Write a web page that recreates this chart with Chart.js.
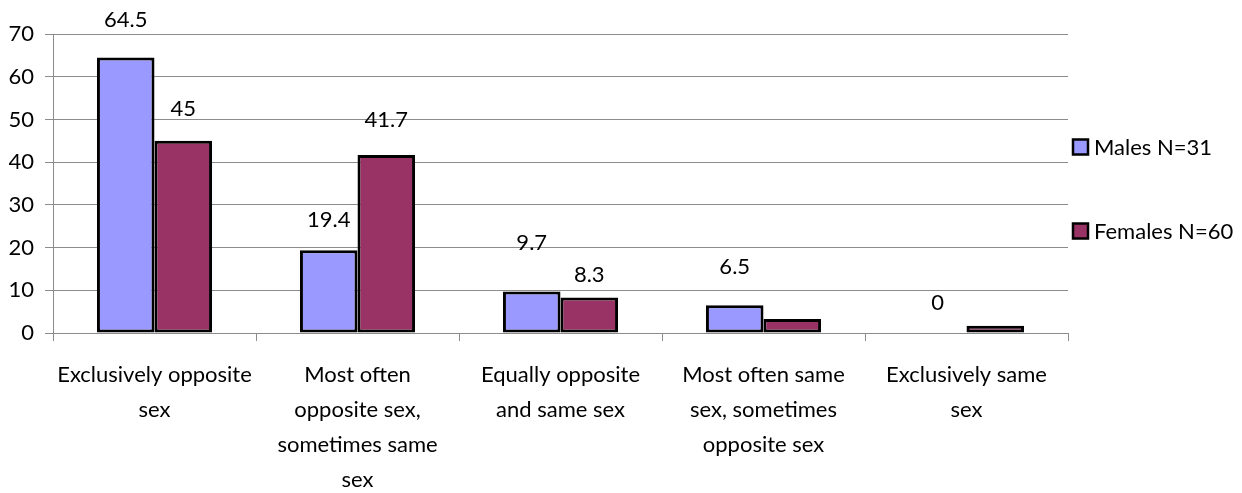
<!DOCTYPE html>
<html>
<head>
<meta charset="utf-8">
<script src="https://cdn.jsdelivr.net/npm/chart.js@4.4.0/dist/chart.umd.min.js"></script>
<style>
  html, body { margin: 0; padding: 0; background: #fff; }
  #wrap { width: 1242px; height: 493px; position: relative; }
</style>
</head>
<body>
<div id="wrap"><canvas id="chart"></canvas></div>
<script>
const categories = [
  ["Exclusively opposite", "sex"],
  ["Most often", "opposite sex,", "sometimes same", "sex"],
  ["Equally opposite", "and same sex"],
  ["Most often same", "sex, sometimes", "opposite sex"],
  ["Exclusively same", "sex"],
];
const males = [64.5, 19.4, 9.7, 6.5, 0];
const females = [45, 41.7, 8.3, 3.3, 1.7];
const maleLabels = ["64.5", "19.4", "9.7", "6.5", "0"];
const femaleLabels = ["45", "41.7", "8.3", null, null];

const FONT = "Lato, 'Open Sans', sans-serif";
const FONT_SIZE = 22;

// value labels above bars (gap above the bar top, per label, as in the original)
const valueLabels = {
  id: "valueLabels",
  afterDatasetsDraw(chart, args, opts) {
    const ctx = chart.ctx;
    const sets = [maleLabels, femaleLabels];
    ctx.save();
    ctx.font = FONT_SIZE + "px " + FONT;
    ctx.fillStyle = "#000";
    ctx.textAlign = "center";
    ctx.textBaseline = "middle";
    sets.forEach((labels, i) => {
      chart.getDatasetMeta(i).data.forEach((bar, j) => {
        if (labels[j] == null) return;
        ctx.fillText(labels[j], bar.x, bar.y - opts.gaps[i][j]);
      });
    });
    ctx.restore();
  },
};

// legend to the right of the plot
const sideLegend = {
  id: "sideLegend",
  afterDraw(chart, args, opts) {
    const ctx = chart.ctx;
    const area = chart.chartArea;
    const x = area.right + 5;
    const mid = (area.top + area.bottom) / 2 + 5;
    ctx.save();
    ctx.font = FONT_SIZE + "px " + FONT;
    ctx.textBaseline = "middle";
    chart.data.datasets.forEach((ds, i) => {
      const y = mid + (i - 0.5) * opts.spacing;
      ctx.fillStyle = ds.backgroundColor;
      ctx.fillRect(x, y - 7, 15, 15);
      ctx.lineWidth = 2.5;
      ctx.strokeStyle = "#000";
      ctx.strokeRect(x, y - 7, 15, 15);
      ctx.fillStyle = "#000";
      ctx.fillText(ds.label, x + 21, y + 1);
    });
    ctx.restore();
  },
};

const ctx = document.getElementById("chart").getContext("2d");
new Chart(ctx, {
  type: "bar",
  data: {
    labels: categories,
    datasets: [
      {
        label: "Males N=31",
        data: males,
        backgroundColor: "#9999ff",
        borderColor: "#000",
        borderWidth: 3,
        borderSkipped: false,
      },
      {
        label: "Females N=60",
        data: females,
        backgroundColor: "#993366",
        borderColor: "#000",
        borderWidth: 3,
        borderSkipped: false,
      },
    ],
  },
  options: {
    responsive: true,
    maintainAspectRatio: false,
    animation: false,
    categoryPercentage: 0.567,
    barPercentage: 1,
    layout: { padding: { top: 34, left: 9, right: 174, bottom: 0 } },
    plugins: {
      tooltip: { enabled: false },
      legend: { display: false },
      valueLabels: {
        gaps: [
          [38, 30, 49, 38, 30],
          [32, 35, 23, 0, 0],
        ],
      },
      sideLegend: { spacing: 84 },
    },
    scales: {
      y: {
        min: 0,
        max: 70,
        afterFit: (scale) => { scale.width = 44; },
        ticks: { stepSize: 10, color: "#000", font: { family: FONT, size: FONT_SIZE }, padding: 11 },
        grid: { color: "#8c8c8c", tickLength: 8 },
        border: { color: "#8c8c8c" },
      },
      x: {
        afterFit: (scale) => { scale.height = 160; },
        ticks: {
          color: "#000",
          font: { family: FONT, size: FONT_SIZE, lineHeight: 1.6 },
          maxRotation: 0,
          autoSkip: false,
          padding: 16,
        },
        grid: { drawOnChartArea: false, color: "#8c8c8c", tickLength: 8 },
        border: { color: "#8c8c8c" },
      },
    },
  },
  plugins: [valueLabels, sideLegend],
});
</script>
</body>
</html>
